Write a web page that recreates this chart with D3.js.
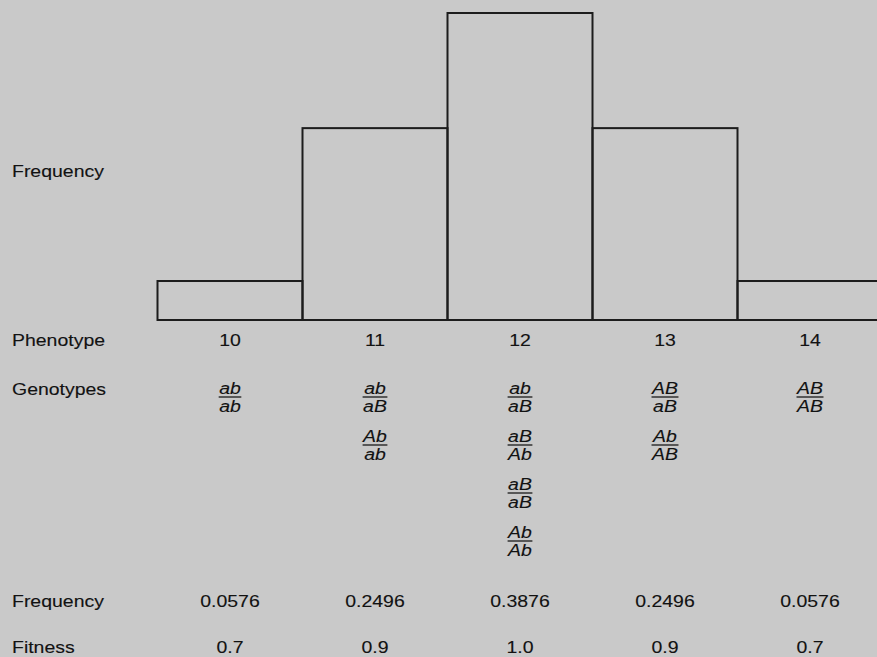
<!DOCTYPE html>
<html>
<head>
<meta charset="utf-8">
<script src="https://cdn.jsdelivr.net/npm/d3@7"></script>
<style>
  html, body { margin: 0; padding: 0; background: #c9c9c9; }
  svg { display: block; }
  text { font-family: "Liberation Sans", Arial, Helvetica, sans-serif; fill: #121212; stroke: #121212; stroke-width: 0.12; }
</style>
</head>
<body>
<svg id="chart" width="877" height="657"></svg>
<script>
// ---- data ----
const phenotypes = [10, 11, 12, 13, 14];
const barHeight = [0.127, 0.625, 1.0, 0.625, 0.127];   // relative bar heights as drawn
const genotypes = [
  [["ab", "ab"]],
  [["ab", "aB"], ["Ab", "ab"]],
  [["ab", "aB"], ["aB", "Ab"], ["aB", "aB"], ["Ab", "Ab"]],
  [["AB", "aB"], ["Ab", "AB"]],
  [["AB", "AB"]]
];
const frequency = ["0.0576", "0.2496", "0.3876", "0.2496", "0.0576"];
const fitness = ["0.7", "0.9", "1.0", "0.9", "0.7"];
const rowLabels = ["Phenotype", "Genotypes", "Frequency", "Fitness"];

// ---- layout ----
const svg = d3.select("#chart");
const W = 877, H = 657;
svg.append("rect").attr("width", W).attr("height", H).attr("fill", "#c9c9c9");

const x = d3.scaleBand().domain(phenotypes).range([157.5, 882.5]).padding(0);
const y = d3.scaleLinear().domain([0, 1]).range([320, 13]);
const SX = 1.18;      // horizontal stretch of the lettering
const FS = 16.5;

// bars
svg.append("g").selectAll("rect").data(phenotypes).join("rect")
  .attr("x", d => x(d))
  .attr("y", (d, i) => y(barHeight[i]))
  .attr("width", x.bandwidth())
  .attr("height", (d, i) => y(0) - y(barHeight[i]))
  .attr("fill", "none")
  .attr("stroke", "#1c1c1c")
  .attr("stroke-width", 2);
// baseline to right edge
svg.append("line").attr("x1", x(14)).attr("x2", W).attr("y1", y(0)).attr("y2", y(0))
  .attr("stroke", "#1c1c1c").attr("stroke-width", 2);

function txt(g, s, tx, ty, anchor, italic) {
  return g.append("text")
    .attr("transform", `translate(${tx},${ty}) scale(${SX},1)`)
    .attr("text-anchor", anchor)
    .attr("font-size", FS)
    .attr("font-style", italic ? "italic" : "normal")
    .text(s);
}

const g = svg.append("g");
// row labels
txt(g, "Frequency", 12, 177, "start");
const rowY = [346, 395, 607, 653];
rowLabels.forEach((l, i) => txt(g, l, 12, rowY[i], "start"));

const cx = d => x(d) + x.bandwidth() / 2;

// phenotype values
phenotypes.forEach((p, i) => txt(g, String(p), cx(p), rowY[0], "middle"));
// frequencies
phenotypes.forEach((p, i) => txt(g, frequency[i], cx(p), rowY[2], "middle"));
// fitness
phenotypes.forEach((p, i) => txt(g, fitness[i], cx(p), rowY[3], "middle"));

// genotype fractions
const lineY0 = 397, step = 48;
phenotypes.forEach((p, i) => {
  genotypes[i].forEach((fr, j) => {
    const ly = lineY0 + j * step;
    const n = txt(g, fr[0], cx(p), ly - 3, "middle", true);
    const dn = txt(g, fr[1], cx(p), ly + 15, "middle", true);
    const w = Math.max(n.node().getComputedTextLength(), dn.node().getComputedTextLength()) * SX;
    g.append("line")
      .attr("x1", cx(p) - w / 2 - 0.5).attr("x2", cx(p) + w / 2 + 0.5)
      .attr("y1", ly).attr("y2", ly)
      .attr("stroke", "#1a1a1a").attr("stroke-width", 1.3);
  });
});
</script>
</body>
</html>
